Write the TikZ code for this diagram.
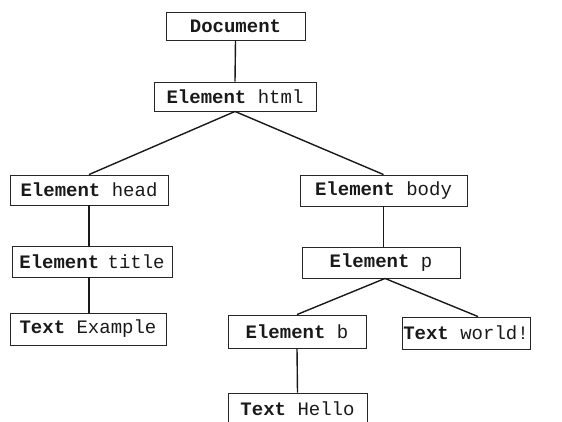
\documentclass[tikz,border=0pt]{standalone}
\usepackage{fontspec}
\setmonofont{Liberation Mono}
\usetikzlibrary{calc}
\tikzset{
  domnode/.style={draw=black!85, line width=0.9pt, inner sep=0pt, minimum height=30pt,
    font=\fontsize{19}{22}\selectfont\ttfamily, text=black!90},
  link/.style={draw=black!90, line width=1.4pt},
}
\newcommand{\kind}[1]{\textbf{#1}}
\begin{document}
\begin{tikzpicture}[x=1pt,y=-1pt]
\useasboundingbox (0,0) rectangle (562,421);
\node[domnode, minimum width=139pt, minimum height=28pt] (doc) at (235.5,26) {\kind{Document}};
\node[domnode, minimum width=162pt, minimum height=29pt] (html) at (235,96.5) {\kind{Element} html};
\node[domnode, minimum width=158pt] (head) at (89,190) {\kind{Element} head};
\node[domnode, minimum width=160pt, minimum height=31pt] (title) at (92,261.5) {\kind{Element}\hspace{-3pt} title};
\node[domnode, minimum width=156pt, minimum height=32pt] (example) at (88,329) {\kind{Text} Example};
\node[domnode, minimum width=167pt, minimum height=31pt] (body) at (383.5,190.5) {\kind{Element} body};
\node[domnode, minimum width=158pt, minimum height=31pt] (p) at (381,262.5) {\kind{Element} p};
\node[domnode, minimum width=138pt, minimum height=33pt] (b) at (297,331.5) {\kind{Element} b};
\node[domnode, minimum width=128pt, minimum height=32pt] (world) at (466,333) {\kind{Text} world!};
\node[domnode, minimum width=139pt, minimum height=31pt] (hello) at (297.5,408.5) {\kind{Text} Hello};
\draw[link] (doc.south) -- (html.north);
\draw[link] (html.south) -- (head.north);
\draw[link] (html.south) -- (body.north);
\draw[link] (head.south) -- (head.south |- title.north);
\draw[link] (head.south |- title.south) -- (head.south |- example.north);
\draw[link] (body.south) -- (body.south |- p.north);
\draw[link] ($(p.south)+(4,0)$) -- (b.north);
\draw[link] ($(p.south)+(4,0)$) -- ($(world.north)+(12,0)$);
\draw[link] (b.south) -- (hello.north);
\end{tikzpicture}
\end{document}
